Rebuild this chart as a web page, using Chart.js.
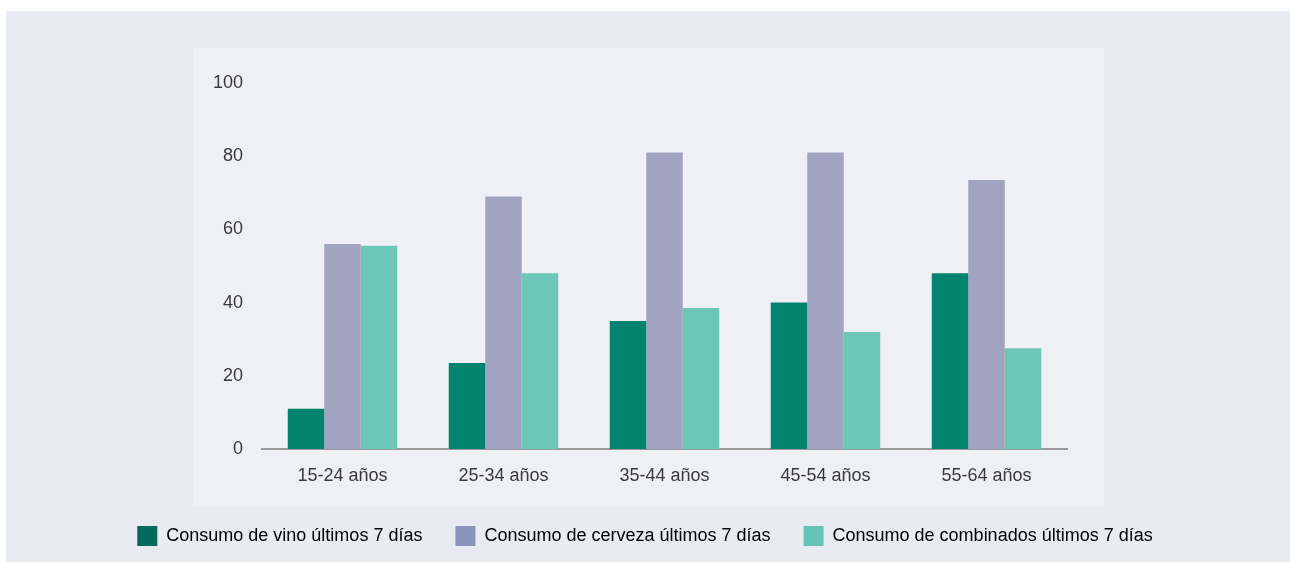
<!DOCTYPE html>
<html>
<head>
<meta charset="utf-8">
<script src="https://cdn.jsdelivr.net/npm/chart.js@4/dist/chart.umd.min.js"></script>
<style>
  html, body { margin: 0; padding: 0; background: #ffffff; }
  #wrap { position: relative; width: 1290px; height: 562px; overflow: hidden; }
  #outer { position: absolute; left: 6px; top: 11px; width: 1284px; height: 551px; background: #e9ebf3; }
  #inner { position: absolute; left: 193px; top: 48px; width: 911px; height: 458px; background: #eff0f5; }
  #chart { position: absolute; left: 0; top: 0; }
</style>
</head>
<body>
<div id="wrap">
  <div id="outer"></div>
  <div id="inner"></div>
  <canvas id="chart" width="1290" height="562"></canvas>
</div>
<script>
'use strict';

/* datos */
const CATEGORIES = ['15-24 años', '25-34 años', '35-44 años', '45-54 años', '55-64 años'];
const VINO       = [11, 23.5, 35, 40, 48];
const CERVEZA    = [56, 69, 81, 81, 73.5];
const COMBINADOS = [55.5, 48, 38.5, 32, 27.5];
const SERIES     = ['Consumo de vino últimos 7 días', 'Consumo de cerveza últimos 7 días', 'Consumo de combinados últimos 7 días'];
const Y_TICKS    = [0, 20, 40, 60, 80, 100];

const BAR_COLORS    = ['#00846f', '#a0a4c0', '#6bc8b8'];
const LEGEND_COLORS = ['#006b5a', '#8a93b8', '#66c4b6'];
const FONT = { family: '"Liberation Sans", Arial, sans-serif', size: 18 };

const ctx = document.getElementById('chart').getContext('2d');

new Chart(ctx, {
  type: 'bar',
  data: {
    labels: CATEGORIES,
    datasets: [VINO, CERVEZA, COMBINADOS].map((d, i) => ({
      label: SERIES[i],
      data: d,
      backgroundColor: BAR_COLORS[i],
      borderWidth: 0,
      barPercentage: 1,
      categoryPercentage: 0.68
    }))
  },
  options: {
    responsive: false,
    animation: false,
    layout: { padding: { left: 0, right: 0, top: 83, bottom: 6 } },
    plugins: {
      tooltip: { enabled: false },
      legend: {
        position: 'bottom',
        labels: {
          color: '#444444',
          font: FONT,
          boxWidth: 20,
          boxHeight: 20,
          padding: 33,
          generateLabels: (chart) => chart.data.datasets.map((ds, i) => ({
            text: ds.label,
            fillStyle: LEGEND_COLORS[i],
            strokeStyle: LEGEND_COLORS[i],
            lineWidth: 0,
            datasetIndex: i
          }))
        }
      }
    },
    scales: {
      x: {
        grid: { display: false, drawTicks: false },
        border: { display: true, color: '#9a9a9a', width: 2 },
        ticks: { color: '#3a3a3a', font: FONT, padding: 16, maxRotation: 0 },
        afterFit: (s) => { s.height = 44; }
      },
      y: {
        min: 0,
        max: 100,
        afterBuildTicks: (s) => { s.ticks = Y_TICKS.map(v => ({ value: v })); },
        grid: { display: false, drawTicks: false },
        border: { display: false },
        ticks: { color: '#3a3a3a', font: FONT, padding: 19 },
        afterFit: (s) => { s.width = 262; }
      },
      // eje vacío para reservar el margen derecho sin mover la leyenda
      yRight: {
        position: 'right',
        display: true,
        grid: { display: false, drawTicks: false },
        border: { display: false },
        ticks: { display: false },
        afterFit: (s) => { s.width = 223; }
      }
    }
  }
});
</script>
</body>
</html>
